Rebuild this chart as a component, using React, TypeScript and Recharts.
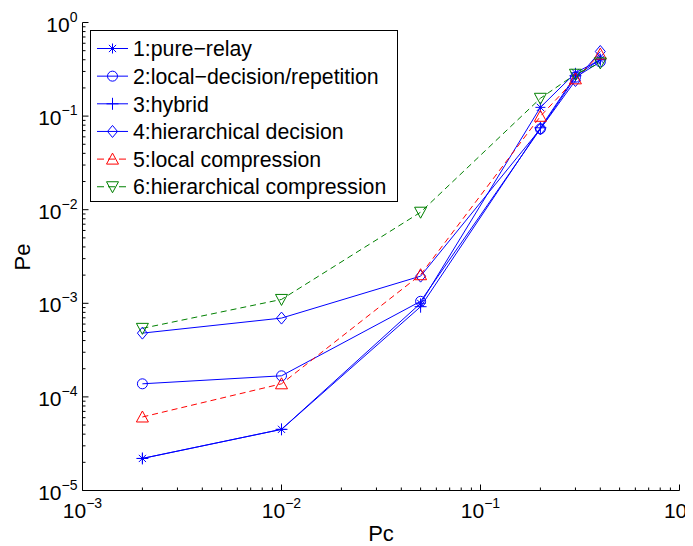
import React from 'react';
import { LineChart, Line, XAxis, YAxis, Legend } from 'recharts';

// ---- data ----
const pc = [0.002, 0.01, 0.05, 0.2, 0.3, 0.4];
const pureRelay = [2.2e-5, 4.5e-5, 1.0e-3, 0.124, 0.29, 0.4];
const localDecision = [1.38e-4, 1.68e-4, 1.05e-3, 0.073, 0.26, 0.38];
const hybrid = [2.2e-5, 4.5e-5, 9.2e-4, 0.075, 0.27, 0.4];
const hierDecision = [4.8e-4, 6.95e-4, 1.95e-3, 0.073, 0.24, 0.49];
const localCompression = [6.1e-5, 1.38e-4, 2.02e-3, 0.0995, 0.25, 0.46];
const hierCompression = [5.4e-4, 1.1e-3, 9.4e-3, 0.155, 0.28, 0.37];

const seriesNames = [
  '1:pure\u2212relay',
  '2:local\u2212decision/repetition',
  '3:hybrid',
  '4:hierarchical decision',
  '5:local compression',
  '6:hierarchical compression',
];
const xMajorTicks = [1e-3, 1e-2, 1e-1, 1];
const yMajorTicks = [1e-5, 1e-4, 1e-3, 1e-2, 1e-1, 1];
const minorMultipliers = [2, 3, 4, 5, 6, 7, 8, 9];
const xTitle = 'Pc';
const yTitle = 'Pe';

const FONT = '"Liberation Sans", Arial, Helvetica, sans-serif';
const BLUE = '#0000ff';
const RED = '#ff0000';
const GREEN = '#008000';

type Shape = 'star' | 'circle' | 'plus' | 'diamond' | 'triUp' | 'triDown';

const seriesDefs: { key: string; values: number[]; color: string; dashed: boolean; shape: Shape }[] = [
  { key: 's1', values: pureRelay, color: BLUE, dashed: false, shape: 'star' },
  { key: 's2', values: localDecision, color: BLUE, dashed: false, shape: 'circle' },
  { key: 's3', values: hybrid, color: BLUE, dashed: false, shape: 'plus' },
  { key: 's4', values: hierDecision, color: BLUE, dashed: false, shape: 'diamond' },
  { key: 's5', values: localCompression, color: RED, dashed: true, shape: 'triUp' },
  { key: 's6', values: hierCompression, color: GREEN, dashed: true, shape: 'triDown' },
];

const rows = pc.map((x, i) => {
  const r: Record<string, number> = { pc: x };
  seriesDefs.forEach((s) => {
    r[s.key] = s.values[i];
  });
  return r;
});

const withMinor = (majors: number[]) => {
  const out: number[] = [];
  majors.forEach((m, i) => {
    out.push(m);
    if (i < majors.length - 1) minorMultipliers.forEach((k) => out.push(m * k));
  });
  return out;
};
const xTicks = withMinor(xMajorTicks);
const yTicks = withMinor(yMajorTicks);

const isMajor = (v: number) => {
  const l = Math.log10(v);
  return Math.abs(l - Math.round(l)) < 1e-6;
};
const expText = (v: number) => {
  const e = Math.round(Math.log10(v));
  return e < 0 ? '\u2212' + String(-e) : String(e);
};

const MAJOR_LEN = 6;
const MINOR_LEN = 3;

function Marker({ shape, cx, cy, color }: { shape: Shape; cx: number; cy: number; color: string }) {
  const common = { stroke: color, strokeWidth: 1, fill: 'none' };
  if (shape === 'circle') return <circle cx={cx} cy={cy} r={5} {...common} />;
  if (shape === 'plus')
    return <path d={`M${cx - 6},${cy}H${cx + 6}M${cx},${cy - 6}V${cy + 6}`} {...common} />;
  if (shape === 'star') {
    const r = 5;
    const d = r * 0.72;
    return (
      <path
        d={`M${cx - r},${cy}H${cx + r}M${cx},${cy - r}V${cy + r}M${cx - d},${cy - d}L${cx + d},${cy + d}M${cx - d},${cy + d}L${cx + d},${cy - d}`}
        {...common}
      />
    );
  }
  if (shape === 'diamond')
    return <path d={`M${cx},${cy - 6}L${cx + 5},${cy}L${cx},${cy + 6}L${cx - 5},${cy}Z`} {...common} />;
  if (shape === 'triUp')
    return <path d={`M${cx},${cy - 6}L${cx + 6},${cy + 5}L${cx - 6},${cy + 5}Z`} {...common} />;
  return <path d={`M${cx},${cy + 6}L${cx + 6},${cy - 5}L${cx - 6},${cy - 5}Z`} {...common} />;
}

const BottomTick = (props: any) => {
  const { x, y, payload } = props;
  const v = payload.value;
  const major = isMajor(v);
  const len = major ? MAJOR_LEN : MINOR_LEN;
  return (
    <g>
      <line x1={x} x2={x} y1={y} y2={y - len} stroke="#000" strokeWidth={1} />
      {major && (
        <text x={x} y={y + 27.5} textAnchor="middle" fontSize={21} fontFamily={FONT} fill="#000">
          <tspan>10</tspan>
          <tspan dy={-10} fontSize={14}>
            {expText(v)}
          </tspan>
        </text>
      )}
    </g>
  );
};

const TopTick = (props: any) => {
  const { x, y, payload } = props;
  const len = isMajor(payload.value) ? MAJOR_LEN : MINOR_LEN;
  return <line x1={x} x2={x} y1={y} y2={y + len} stroke="#000" strokeWidth={1} />;
};

const LeftTick = (props: any) => {
  const { x, y, payload } = props;
  const v = payload.value;
  const major = isMajor(v);
  const len = major ? MAJOR_LEN : MINOR_LEN;
  return (
    <g>
      <line x1={x} x2={x + len} y1={y} y2={y} stroke="#000" strokeWidth={1} />
      {major && (
        <text x={x - 5} y={y + 9} textAnchor="end" fontSize={21} fontFamily={FONT} fill="#000">
          <tspan>10</tspan>
          <tspan dy={-10} fontSize={14}>
            {expText(v)}
          </tspan>
        </text>
      )}
    </g>
  );
};

const RightTick = (props: any) => {
  const { x, y, payload } = props;
  const len = isMajor(payload.value) ? MAJOR_LEN : MINOR_LEN;
  return <line x1={x} x2={x - len} y1={y} y2={y} stroke="#000" strokeWidth={1} />;
};

const LEG_W = 308;
const LEG_H = 172;

const LegendBox = () => (
  <svg width={LEG_W} height={LEG_H} style={{ display: 'block' }}>
    <rect x={0.5} y={0.5} width={LEG_W - 1} height={LEG_H - 1} fill="#fff" stroke="#000" strokeWidth={1} />
    {seriesDefs.map((s, i) => {
      const cy = 18.5 + i * 27.65;
      return (
        <g key={s.key}>
          <line
            x1={7}
            x2={38}
            y1={cy}
            y2={cy}
            stroke={s.color}
            strokeWidth={1}
            strokeDasharray={s.dashed ? '7 4' : undefined}
          />
          <Marker shape={s.shape} cx={22.5} cy={cy} color={s.color} />
          <text x={43} y={cy + 7.7} fontSize={21.3} fontFamily={FONT} fill="#000">
            {seriesNames[i]}
          </text>
        </g>
      );
    })}
  </svg>
);

const logDomainX: [number, number] = [xMajorTicks[0], xMajorTicks[xMajorTicks.length - 1]];
const logDomainY: [number, number] = [yMajorTicks[0], yMajorTicks[yMajorTicks.length - 1]];

export default function App() {
  return (
    <div style={{ width: 685, height: 538, fontFamily: FONT }}>
      <LineChart
        width={685}
        height={538}
        data={rows}
        margin={{ top: 14.5, right: 13.5, left: 0, bottom: 0 }}
      >
        <XAxis
          xAxisId="b"
          dataKey="pc"
          type="number"
          scale="log"
          domain={logDomainX}
          allowDataOverflow
          ticks={xTicks}
          interval={0}
          tickSize={0}
          tickMargin={0}
          tickLine={false}
          tick={BottomTick}
          height={55.5}
          axisLine={{ stroke: '#000', strokeWidth: 1 }}
          label={() => (
            <text x={373} y={533} textAnchor="middle" fontSize={22} fontFamily={FONT} fill="#000">
              {xTitle}
            </text>
          )}
        />
        <XAxis
          xAxisId="t"
          orientation="top"
          dataKey="pc"
          type="number"
          scale="log"
          domain={logDomainX}
          allowDataOverflow
          ticks={xTicks}
          interval={0}
          tickSize={0}
          tickMargin={0}
          tickLine={false}
          tick={TopTick}
          height={0}
          axisLine={{ stroke: '#000', strokeWidth: 1 }}
        />
        <YAxis
          yAxisId="l"
          type="number"
          scale="log"
          domain={logDomainY}
          allowDataOverflow
          ticks={yTicks}
          interval={0}
          tickSize={0}
          tickMargin={0}
          tickLine={false}
          tick={LeftTick}
          width={74.5}
          axisLine={{ stroke: '#000', strokeWidth: 1 }}
          label={() => (
            <text
              x={22}
              y={249}
              transform="rotate(-90 22 249)"
              textAnchor="middle"
              fontSize={22}
              fontFamily={FONT}
              fill="#000"
            >
              {yTitle}
            </text>
          )}
        />
        <YAxis
          yAxisId="r"
          orientation="right"
          type="number"
          scale="log"
          domain={logDomainY}
          allowDataOverflow
          ticks={yTicks}
          interval={0}
          tickSize={0}
          tickMargin={0}
          tickLine={false}
          tick={RightTick}
          width={0}
          axisLine={{ stroke: '#000', strokeWidth: 1 }}
        />
        {seriesDefs.map((s, i) => (
          <Line
            key={s.key}
            xAxisId="b"
            yAxisId="l"
            dataKey={s.key}
            name={seriesNames[i]}
            stroke={s.color}
            strokeWidth={1}
            strokeDasharray={s.dashed ? '6 4' : undefined}
            type="linear"
            isAnimationActive={false}
            dot={(p: any) => (
              <Marker key={`${s.key}-${p.index}`} shape={s.shape} cx={p.cx} cy={p.cy} color={s.color} />
            )}
            activeDot={false}
          />
        ))}
        <Legend
          layout="vertical"
          align="center"
          verticalAlign="middle"
          content={() => <LegendBox />}
          wrapperStyle={{ position: 'absolute', left: 82, top: 22, width: LEG_W, height: LEG_H }}
        />
      </LineChart>
    </div>
  );
}
